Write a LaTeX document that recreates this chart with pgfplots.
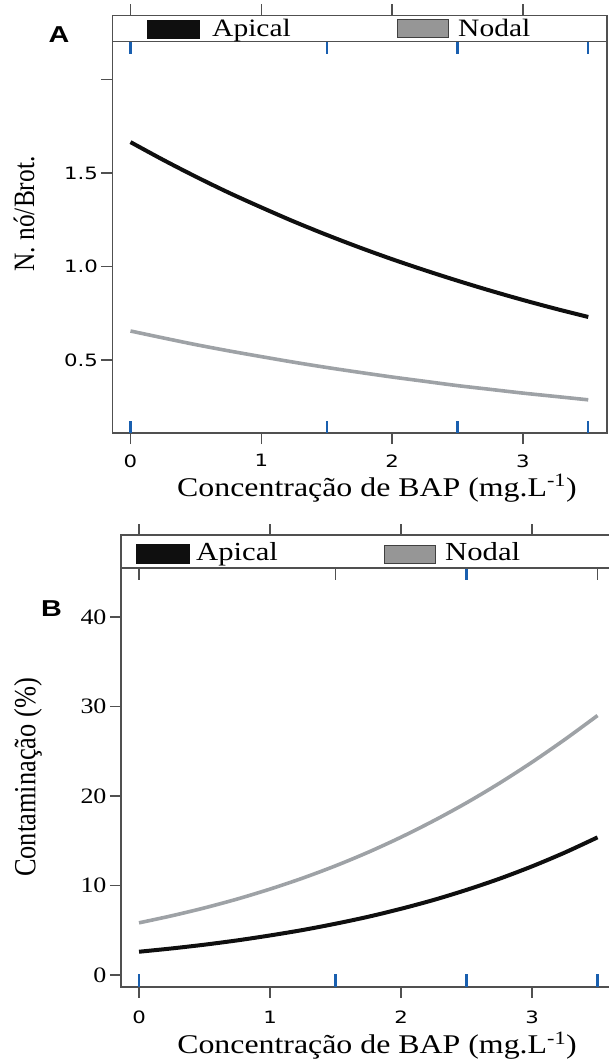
\documentclass[border=0pt]{standalone}
\usepackage{fontspec}
\setmainfont[FakeStretch=1.18]{Liberation Serif}
\newfontfamily\rotfont[FakeStretch=0.86]{Liberation Serif}
\newfontfamily\tickfont[FakeStretch=1.25]{DejaVu Sans}
\newfontfamily\letterfont[FakeStretch=1.25]{Liberation Sans}
\usepackage{pgfplots}
\pgfplotsset{compat=1.18}

\definecolor{framegray}{RGB}{80,80,80}
\definecolor{apical}{RGB}{15,15,15}
\definecolor{nodal}{RGB}{158,162,166}
\definecolor{nodalkey}{RGB}{150,150,150}
\definecolor{rug}{RGB}{25,95,175}

% rug marks: short strokes pointing into the panel
\pgfdeclareplotmark{rugup}{\pgfpathmoveto{\pgfpointorigin}\pgfpathlineto{\pgfpoint{0pt}{12.5pt}}\pgfusepathqstroke}
\pgfdeclareplotmark{rugdown}{\pgfpathmoveto{\pgfpointorigin}\pgfpathlineto{\pgfpoint{0pt}{-12.5pt}}\pgfusepathqstroke}

\pgfplotsset{
  panel/.style={
    scale only axis,
    anchor=south west,
    axis line style={framegray, line width=1.6pt},
    tick style={framegray, line width=1.4pt},
    major tick length=11pt,
    tick align=outside,
    xtick pos=both, xticklabel pos=lower,
    ytick pos=left,
    xtick={0,1,2,3},
    xmin=-0.1376, xmax=3.641,
    /pgf/number format/assume math mode=true,
    xticklabel style={font=\tickfont\fontsize{17}{17}\selectfont},
    xlabel style={anchor=base, inner sep=0pt, font=\fontsize{27}{28}\selectfont},
    ylabel style={anchor=base, inner sep=0pt},
  },
  rugmark/.style={only marks, mark=#1, mark options={line width=2.2pt}},
}

\begin{document}
\begin{tikzpicture}
% ---------------- panel A ----------------
\begin{axis}[panel,
  at={(112.5pt,-433pt)},
  width=494.2pt, height=417.5pt,
  ymin=0.1096, ymax=2.342,
  ytick={0.5,1,1.5,2}, yticklabels={0.5,1.0,1.5,{}},
  yticklabel style={font=\tickfont\fontsize{17}{17}\selectfont},
  xticklabel style={yshift=-7pt},
  xlabel={Concentração de BAP (mg.L\textsuperscript{-1})},
  xlabel style={at={(axis description cs:0.5352,-0.1509)}},
  ylabel={N. nó/Brot.},
  ylabel style={at={(axis description cs:-0.1588,0.5246)}, font=\rotfont\fontsize{29.5}{30}\selectfont},
]
\addplot[apical, line width=4pt, smooth] coordinates {
  (0,1.665) (0.25,1.570) (0.5,1.480) (0.75,1.395) (1,1.316) (1.25,1.240)
  (1.5,1.169) (1.75,1.102) (2,1.039) (2.25,0.980) (2.5,0.924) (2.75,0.871)
  (3,0.821) (3.25,0.774) (3.5,0.730)
};
\addplot[nodal, line width=3.6pt, smooth] coordinates {
  (0,0.655) (0.25,0.618) (0.5,0.582) (0.75,0.549) (1,0.518) (1.25,0.488)
  (1.5,0.460) (1.75,0.434) (2,0.409) (2.25,0.386) (2.5,0.363) (2.75,0.343)
  (3,0.323) (3.25,0.305) (3.5,0.287)
};
\addplot[rug, rugmark=rugup] coordinates {(0,0.1096) (1.5,0.1096) (2.5,0.1096) (3.5,0.1096)};
\addplot[rug, rugmark=rugdown] coordinates {(0,2.202) (1.5,2.202) (2.5,2.202) (3.5,2.202)};
\end{axis}
% strip with key, panel A
\draw[framegray, line width=1.6pt] (112.5pt,-41.7pt) -- (606.7pt,-41.7pt);
\draw[apical, fill=apical, line width=0.8pt] (147pt,-20pt) rectangle (199pt,-38pt);
\node[anchor=base west, inner sep=0pt, font=\fontsize{25}{26}\selectfont] at (212pt,-36.7pt) {Apical};
\draw[black!75, fill=nodalkey, line width=1pt] (397pt,-20pt) rectangle (448.5pt,-38pt);
\node[anchor=base west, inner sep=0pt, font=\fontsize{25}{26}\selectfont] at (458pt,-36.7pt) {Nodal};
\node[font=\letterfont\bfseries\fontsize{23}{24}\selectfont, inner sep=0pt] at (59pt,-35pt) {A};

% ---------------- panel B ----------------
\begin{axis}[panel,
  at={(121pt,-986.7pt)},
  width=495pt, height=451.7pt,
  ymin=-1.307, ymax=49.16,
  ytick={0,10,20,30,40},
  yticklabel style={font=\fontsize{22}{23}\selectfont},
  xticklabel style={yshift=-10pt},
  xlabel={Concentração de BAP (mg.L\textsuperscript{-1})},
  xlabel style={at={(axis description cs:0.5172,-0.1479)}},
  ylabel={Contaminação (\%)},
  ylabel style={at={(axis description cs:-0.1729,0.4631)}, font=\rotfont\fontsize{30.7}{32}\selectfont},
]
\addplot[apical, line width=4pt, smooth] coordinates {
  (0,2.60) (0.25,2.97) (0.5,3.39) (0.75,3.87) (1,4.42) (1.25,5.03)
  (1.5,5.73) (1.75,6.51) (2,7.40) (2.25,8.39) (2.5,9.51) (2.75,10.75)
  (3,12.14) (3.25,13.68) (3.5,15.38)
};
\addplot[nodal, line width=3.6pt, smooth] coordinates {
  (0,5.83) (0.25,6.62) (0.5,7.50) (0.75,8.49) (1,9.60) (1.25,10.83)
  (1.5,12.20) (1.75,13.72) (2,15.40) (2.25,17.24) (2.5,19.24) (2.75,21.42)
  (3,23.78) (3.25,26.31) (3.5,28.99)
};
\addplot[rug, rugmark=rugup] coordinates {(0,-1.307) (1.5,-1.307) (2.5,-1.307) (3.5,-1.307)};
\addplot[framegray, rugmark=rugdown, mark options={line width=1.6pt}] coordinates {(0,45.51) (1.5,45.51) (3.5,45.51)};
\addplot[rug, rugmark=rugdown] coordinates {(2.5,45.51)};
\end{axis}
% strip with key, panel B
\draw[framegray, line width=1.6pt] (121pt,-567.7pt) -- (616pt,-567.7pt);
\draw[apical, fill=apical, line width=0.8pt] (136.7pt,-544pt) rectangle (189.3pt,-563pt);
\node[anchor=base west, inner sep=0pt, font=\fontsize{26}{27}\selectfont] at (196pt,-560pt) {Apical};
\draw[black!75, fill=nodalkey, line width=1pt] (384.5pt,-545pt) rectangle (435pt,-563pt);
\node[anchor=base west, inner sep=0pt, font=\fontsize{26}{27}\selectfont] at (445pt,-560pt) {Nodal};
\node[font=\letterfont\bfseries\fontsize{23}{24}\selectfont, inner sep=0pt] at (51.5pt,-609pt) {B};

\pgfresetboundingbox
\path (0pt,0pt) rectangle (609pt,-1059pt);
\end{tikzpicture}
\end{document}
